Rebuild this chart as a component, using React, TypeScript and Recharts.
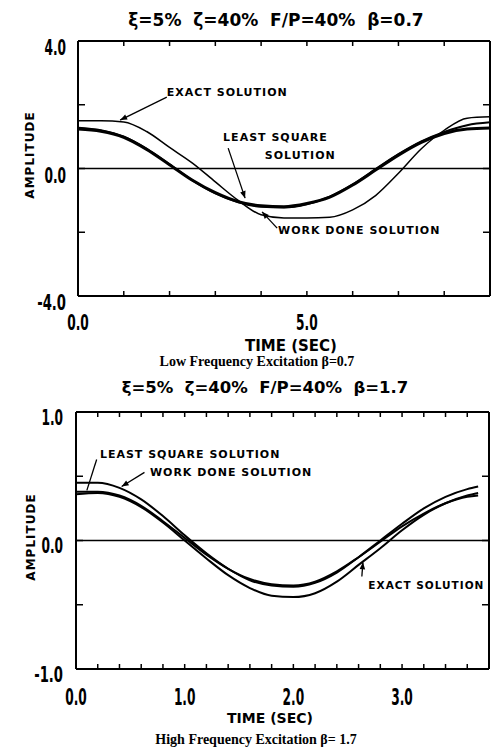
import React from 'react'
import { LineChart, Line, XAxis, YAxis, ReferenceLine, ReferenceDot } from 'recharts'

// ---- low frequency panel (beta = 0.7) ----
const lowTime = [0, 0.5, 1, 1.5, 2, 2.5, 3, 3.5, 4, 4.5, 5, 5.5, 6, 6.5, 7, 7.5, 8, 8.5, 9]
const lowExact = [1.5, 1.5, 1.46, 1.16, 0.66, 0.17, -0.42, -1.0, -1.45, -1.55, -1.55, -1.53, -1.3, -0.85, -0.15, 0.62, 1.2, 1.58, 1.62]
const lowLeastSquare = [1.28, 1.2, 1.0, 0.62, 0.13, -0.37, -0.78, -1.06, -1.2, -1.22, -1.12, -0.88, -0.5, -0.02, 0.45, 0.85, 1.15, 1.36, 1.45]
const lowWorkDone = [1.24, 1.17, 0.98, 0.6, 0.12, -0.37, -0.76, -1.04, -1.17, -1.2, -1.1, -0.9, -0.52, -0.05, 0.42, 0.82, 1.1, 1.24, 1.27]
const lowXTicks = [0, 1, 2, 3, 4, 5, 6, 7, 8, 9]
const lowXLabels = ['0.0', '', '', '', '', '5.0', '', '', '', '']
const lowYTicks = [-4, -2, 0, 2, 4]
const lowYLabels = ['-4.0', '', '0.0', '', '4.0']

// ---- high frequency panel (beta = 1.7) ----
const highTime = [0, 0.2, 0.4, 0.6, 0.8, 1, 1.2, 1.4, 1.6, 1.8, 2, 2.2, 2.4, 2.6, 2.8, 3, 3.2, 3.4, 3.6, 3.7]
const highExact = [0.36, 0.37, 0.34, 0.26, 0.14, 0.0, -0.14, -0.27, -0.37, -0.43, -0.44, -0.41, -0.32, -0.19, -0.06, 0.08, 0.2, 0.29, 0.35, 0.37]
const highLeastSquare = [0.38, 0.38, 0.35, 0.27, 0.15, 0.02, -0.11, -0.22, -0.3, -0.34, -0.35, -0.32, -0.24, -0.13, -0.01, 0.11, 0.21, 0.29, 0.34, 0.35]
const highWorkDone = [0.45, 0.45, 0.41, 0.32, 0.19, 0.04, -0.1, -0.22, -0.31, -0.35, -0.36, -0.33, -0.25, -0.13, 0.0, 0.13, 0.25, 0.34, 0.4, 0.42]
const highXTicks = [0, 0.2, 0.4, 0.6, 0.8, 1, 1.2, 1.4, 1.6, 1.8, 2, 2.2, 2.4, 2.6, 2.8, 3, 3.2, 3.4, 3.6, 3.8]
const highXLabels = ['0.0', '', '', '', '', '1.0', '', '', '', '', '2.0', '', '', '', '', '3.0', '', '', '', '']
const highYTicks = [-1, -0.5, 0, 0.5, 1]
const highYLabels = ['-1.0', '', '0.0', '', '1.0']

// annotations: text anchor points and arrows, in data units
const lowNotes = [
  { x: 1.94, y: 2.4, text: 'EXACT SOLUTION' },
  { x: 3.17, y: 0.96, text: 'LEAST SQUARE' },
  { x: 4.08, y: 0.42, text: 'SOLUTION' },
  { x: 4.37, y: -1.93, text: 'WORK DONE SOLUTION' },
]
const lowArrows = [
  { from: [1.94, 2.24], to: [0.92, 1.52] },
  { from: [3.28, 0.64], to: [3.65, -0.93] },
  { from: [4.35, -1.87], to: [4.02, -1.36] },
]
const highNotes = [
  { x: 0.22, y: 0.67, text: 'LEAST SQUARE SOLUTION' },
  { x: 0.68, y: 0.53, text: 'WORK DONE SOLUTION' },
  { x: 2.69, y: -0.35, text: 'EXACT SOLUTION' },
]
const highArrows = [
  { from: [0.19, 0.63], to: [0.1, 0.39] },
  { from: [0.63, 0.53], to: [0.42, 0.42] },
  { from: [2.63, -0.28], to: [2.64, -0.17] },
]

const lowData = lowTime.map((t, i) => ({ t, exact: lowExact[i], ls: lowLeastSquare[i], wd: lowWorkDone[i] }))
const highData = highTime.map((t, i) => ({ t, exact: highExact[i], ls: highLeastSquare[i], wd: highWorkDone[i] }))

const TICK_FONT = '"DejaVu Sans Condensed", "DejaVu Sans", sans-serif'
const LABEL_FONT = '"DejaVu Sans", Verdana, sans-serif'
const AXIS = { stroke: '#000', strokeWidth: 2 }

// plotter-style tick numbers: tall and narrow
const tickText = (x: number, y: number, s: string, anchor: string, size: number, per: number) => (
  <text x={x} y={y} textAnchor={anchor} dominantBaseline="central" fontFamily={TICK_FONT} fontWeight={700}
    fontSize={size} fill="#000" textLength={s.length * per} lengthAdjust="spacingAndGlyphs">
    {s}
  </text>
)

const bottomTick = (labels: string[], dy: number, size: number) => (p: any) => (
  <g>
    <line x1={p.x} y1={p.y} x2={p.x} y2={p.y - 5} stroke="#000" strokeWidth={1.5} />
    {labels[p.index] && tickText(p.x, p.y + dy, labels[p.index], 'middle', size, 7.2)}
  </g>
)

const topTick = (p: any) => (
  <line x1={p.x} y1={p.y} x2={p.x} y2={p.y + 5} stroke="#000" strokeWidth={1.5} />
)

const leftTick = (labels: string[], dx: number, dy: number, size: number) => (p: any) => (
  <g>
    <line x1={p.x} y1={p.y} x2={p.x + 7} y2={p.y} stroke="#000" strokeWidth={1.5} />
    {labels[p.index] && tickText(p.x - dx, p.y + dy, labels[p.index], 'end', size, 7.2)}
  </g>
)

const rightTick = (p: any) => (
  <line x1={p.x} y1={p.y} x2={p.x - 7} y2={p.y} stroke="#000" strokeWidth={1.5} />
)

const arrowShape = (head: boolean) => (p: any) => {
  const { x1, y1, x2, y2 } = p
  const a = Math.atan2(y2 - y1, x2 - x1)
  const bx = x2 - 7 * Math.cos(a)
  const by = y2 - 7 * Math.sin(a)
  const w = 2.8
  const pts = `${x2},${y2} ${bx + w * Math.sin(a)},${by - w * Math.cos(a)} ${bx - w * Math.sin(a)},${by + w * Math.cos(a)}`
  return (
    <g>
      <line x1={x1} y1={y1} x2={x2} y2={y2} stroke="#000" strokeWidth={1.3} />
      {head && <polygon points={pts} fill="#000" />}
    </g>
  )
}

const noteShape = (text: string, size: number) => (p: any) => (
  <text x={p.cx} y={p.cy} dominantBaseline="central" fontFamily={LABEL_FONT} fontWeight={700}
    fontSize={size} letterSpacing={1} fill="#000">
    {text}
  </text>
)

function Caption({ x, y, text, size, font, weight = 700 }: { x: number; y: number; text: string; size: number; font: string; weight?: number }) {
  return (
    <div style={{
      position: 'absolute', left: x - 200, top: y - 12, width: 400, height: 24, lineHeight: '24px',
      textAlign: 'center', fontSize: size, fontFamily: font, fontWeight: weight, whiteSpace: 'pre',
    }}>
      {text}
    </div>
  )
}

function YTitle({ x, y }: { x: number; y: number }) {
  return (
    <div style={{
      position: 'absolute', left: x - 60, top: y - 10, width: 120, height: 20, lineHeight: '20px',
      textAlign: 'center', fontSize: 12, fontFamily: LABEL_FONT, fontWeight: 700, letterSpacing: 1,
      transform: 'rotate(-90deg)',
    }}>
      AMPLITUDE
    </div>
  )
}

export default function App() {
  return (
    <div style={{ position: 'absolute', left: 0, top: 0, width: 491, height: 751, background: '#fff', color: '#000', overflow: 'hidden' }}>
      <Caption x={276} y={20} text={'ξ=5%  ζ=40%  F/P=40%  β=0.7'} size={17} font={LABEL_FONT} />
      <YTitle x={30} y={155} />
      <div style={{ position: 'absolute', left: 0, top: 0 }}>
        <LineChart width={491} height={380} data={lowData} margin={{ top: 40, right: 0, bottom: 44, left: 48 }}>
          <XAxis dataKey="t" type="number" domain={[0, 9]} ticks={lowXTicks} interval={0} allowDataOverflow
            height={40} tickSize={0} tickMargin={0} axisLine={AXIS} tickLine={false} tick={bottomTick(lowXLabels, 27, 21)} />
          <XAxis xAxisId="top" orientation="top" dataKey="t" type="number" domain={[0, 9]} ticks={lowXTicks} interval={0}
            allowDataOverflow height={1} tickSize={0} tickMargin={0} axisLine={AXIS} tickLine={false} tick={topTick} />
          <YAxis type="number" domain={[-4, 4]} ticks={lowYTicks} interval={0} allowDataOverflow width={30}
            tickSize={0} tickMargin={0} axisLine={AXIS} tickLine={false} tick={leftTick(lowYLabels, 12, 7, 21)} />
          <YAxis yAxisId="right" orientation="right" type="number" domain={[-4, 4]} ticks={lowYTicks} interval={0}
            allowDataOverflow width={1} tickSize={0} tickMargin={0} axisLine={AXIS} tickLine={false} tick={rightTick} />
          <ReferenceLine y={0} stroke="#000" strokeWidth={1.5} />
          <Line type="monotone" dataKey="exact" stroke="#000" strokeWidth={1.5} dot={false} isAnimationActive={false} />
          <Line type="monotone" dataKey="ls" stroke="#000" strokeWidth={2} dot={false} isAnimationActive={false} />
          <Line type="monotone" dataKey="wd" stroke="#000" strokeWidth={3} dot={false} isAnimationActive={false} />
          {lowArrows.map((a, i) => (
            <ReferenceLine key={'la' + i} segment={[{ x: a.from[0], y: a.from[1] }, { x: a.to[0], y: a.to[1] }]}
              shape={arrowShape(true)} />
          ))}
          {lowNotes.map((n, i) => (
            <ReferenceDot key={'ln' + i} x={n.x} y={n.y} r={0} shape={noteShape(n.text, 11)} />
          ))}
        </LineChart>
      </div>
      <Caption x={291} y={346} text="TIME (SEC)" size={15} font={LABEL_FONT} />
      <Caption x={257} y={362} text="Low Frequency Excitation β=0.7" size={14} font={'"Liberation Serif", "DejaVu Serif", serif'} />

      <Caption x={265} y={388} text={'ξ=5%  ζ=40%  F/P=40%  β=1.7'} size={16.5} font={LABEL_FONT} />
      <YTitle x={31} y={537} />
      <div style={{ position: 'absolute', left: 0, top: 370 }}>
        <LineChart width={491} height={381} data={highData} margin={{ top: 41, right: 1, bottom: 42, left: 46 }}>
          <XAxis dataKey="t" type="number" domain={[0, 3.8]} ticks={highXTicks} interval={0} allowDataOverflow
            height={40} tickSize={0} tickMargin={0} axisLine={AXIS} tickLine={false} tick={bottomTick(highXLabels, 28, 23)} />
          <XAxis xAxisId="top" orientation="top" dataKey="t" type="number" domain={[0, 3.8]} ticks={highXTicks} interval={0}
            allowDataOverflow height={1} tickSize={0} tickMargin={0} axisLine={AXIS} tickLine={false} tick={topTick} />
          <YAxis type="number" domain={[-1, 1]} ticks={highYTicks} interval={0} allowDataOverflow width={30}
            tickSize={0} tickMargin={0} axisLine={AXIS} tickLine={false} tick={leftTick(highYLabels, 13, 5, 22)} />
          <YAxis yAxisId="right" orientation="right" type="number" domain={[-1, 1]} ticks={highYTicks} interval={0}
            allowDataOverflow width={1} tickSize={0} tickMargin={0} axisLine={AXIS} tickLine={false} tick={rightTick} />
          <ReferenceLine y={0} stroke="#000" strokeWidth={1.5} />
          <Line type="monotone" dataKey="exact" stroke="#000" strokeWidth={2} dot={false} isAnimationActive={false} />
          <Line type="monotone" dataKey="ls" stroke="#000" strokeWidth={2} dot={false} isAnimationActive={false} />
          <Line type="monotone" dataKey="wd" stroke="#000" strokeWidth={2} dot={false} isAnimationActive={false} />
          {highArrows.map((a, i) => (
            <ReferenceLine key={'ha' + i} segment={[{ x: a.from[0], y: a.from[1] }, { x: a.to[0], y: a.to[1] }]}
              shape={arrowShape(i !== 0)} />
          ))}
          {highNotes.map((n, i) => (
            <ReferenceDot key={'hn' + i} x={n.x} y={n.y} r={0} shape={noteShape(n.text, i === 2 ? 10.5 : 11)} />
          ))}
        </LineChart>
      </div>
      <Caption x={270} y={718} text="TIME (SEC)" size={14} font={LABEL_FONT} />
      <Caption x={256} y={740} text="High Frequency Excitation β= 1.7" size={14} font={'"Liberation Serif", "DejaVu Serif", serif'} />
    </div>
  )
}
